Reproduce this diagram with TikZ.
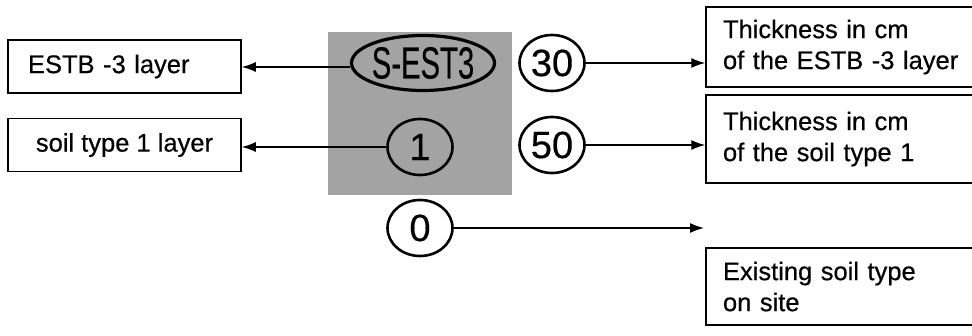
\documentclass[tikz,border=0pt]{standalone}
\usepackage{fontspec}
\setmainfont{Liberation Sans}[FakeBold=0.5]
\usetikzlibrary{shapes.geometric,arrows.meta}
\begin{document}
\begin{tikzpicture}[x=1pt,y=-1pt,
  lbox/.style={draw=black,line width=1.5pt,minimum width=233pt,minimum height=53pt,inner sep=0pt,font=\fontsize{25.5}{31}\selectfont},
  rbox/.style={draw=black,line width=1.5pt,minimum width=280pt,inner xsep=17pt,text width=246pt,align=left,font=\fontsize{25.5}{31}\selectfont},
  numc/.style={draw=black,line width=2.6pt,ellipse,inner sep=0pt,minimum width=65pt,minimum height=56pt,font=\fontsize{38}{38}\selectfont},
  conn/.style={line width=1.4pt,-{Latex[length=14pt,width=10pt]}},
]
\useasboundingbox (0,0) rectangle (972,336);
\fill[white] (0,0) rectangle (972,336);
% shaded sample
\node[fill=black!36,minimum width=184pt,minimum height=163pt,inner sep=0pt] (shade) at (420,113.5) {};
% left boxes
\node[lbox,text width=193pt,inner xsep=20pt,align=left] (estb) at (124.5,66.5) {ESTB -3 layer};
\node[lbox] (soil) at (124.5,145) {soil type 1 layer};
% codes
\node[draw=black,line width=3.2pt,ellipse,inner sep=0pt,minimum width=143pt,minimum height=55pt] (sest) at (423,63) {\makebox[0pt]{\scalebox{0.65}[1]{\fontsize{45}{45}\selectfont S-EST3}}};
\node[numc] (one) at (420,147) {1};
\node[numc] (thirty) at (552,63) {30};
\node[numc] (fifty) at (552,145) {50};
\node[numc] (zero) at (420,228) {0};
% right boxes
\node[rbox,minimum height=80pt] (t1) at (846,47) {Thickness in cm\\of the ESTB -3 layer};
\node[rbox,minimum height=88pt] (t2) at (846,139) {Thickness in cm\\of the soil type 1};
\node[rbox,minimum height=77pt] (t3) at (846,286.5) {Existing soil type\\on site};
\coordinate (zend) at (704,228);
% connectors
\draw[conn] (sest.west |- 0,67) -- (estb.east |- 0,67);
\draw[conn] (one.west) -- (soil.east |- one.west);
\draw[conn] (thirty.east) -- (t1.west |- thirty.east);
\draw[conn] (fifty.east) -- (t2.west |- fifty.east);
\draw[conn] (zero.east) -- (zend);
\end{tikzpicture}
\end{document}
